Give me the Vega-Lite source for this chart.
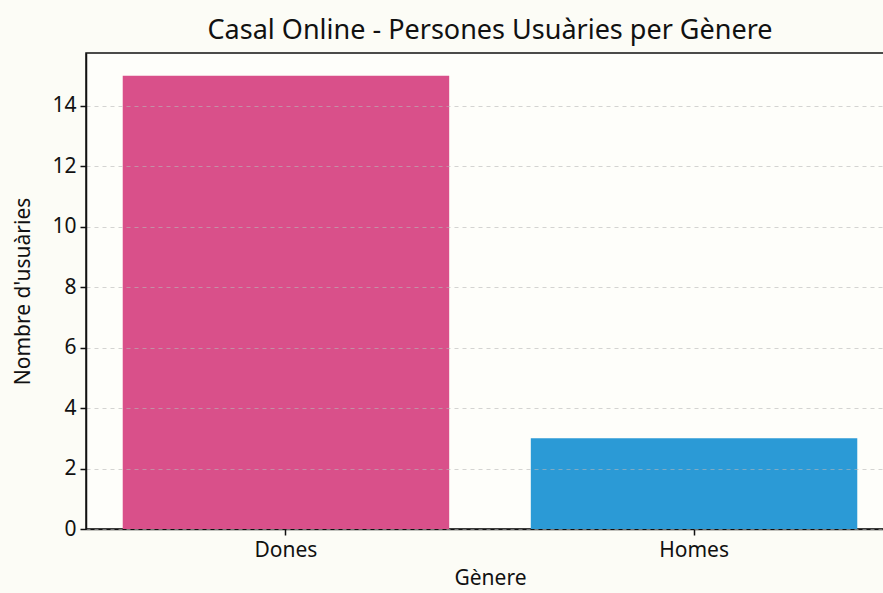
{
  "$schema": "https://vega.github.io/schema/vega-lite/v6.json",
  "autosize": {"type": "none"},
  "padding": {"left": 86, "top": 53, "right": 0, "bottom": 64},
  "width": 808,
  "height": 476,
  "background": "#fcfcf6",
  "title": {
    "text": "Casal Online - Persones Usuàries per Gènere",
    "font": "Noto Sans",
    "fontSize": 27,
    "fontWeight": "normal",
    "color": "#111111",
    "anchor": "middle",
    "offset": 8
  },
  "config": {
    "view": {"stroke": "#111111", "strokeWidth": 1.5, "fill": "#fefefa"},
    "axis": {
      "labelFont": "Noto Sans",
      "titleFont": "Noto Sans",
      "labelFontSize": 21,
      "titleFontSize": 21,
      "titleFontWeight": "normal",
      "labelColor": "#111111",
      "titleColor": "#111111",
      "domainColor": "#111111",
      "tickColor": "#111111",
      "domainWidth": 1.5,
      "tickWidth": 1.5,
      "tickSize": 6
    }
  },
  "data": {
    "values": [
      {"genere": "Dones", "usuaries": 15},
      {"genere": "Homes", "usuaries": 3}
    ]
  },
  "mark": {"type": "bar"},
  "encoding": {
    "x": {
      "field": "genere",
      "type": "nominal",
      "title": "Gènere",
      "scale": {"paddingInner": 0.2, "paddingOuter": 0.09},
      "axis": {"labelAngle": 0, "labelPadding": 4, "titlePadding": 7, "grid": false}
    },
    "y": {
      "field": "usuaries",
      "type": "quantitative",
      "title": "Nombre d'usuàries",
      "scale": {"domain": [0, 15.75], "nice": false},
      "axis": {
        "values": [0, 2, 4, 6, 8, 10, 12, 14],
        "grid": true,
        "gridDash": [4, 4],
        "gridColor": "#b8b8b8",
        "gridOpacity": 0.6,
        "zindex": 1,
        "labelPadding": 4,
        "titlePadding": 18
      }
    },
    "color": {
      "field": "genere",
      "type": "nominal",
      "scale": {"domain": ["Dones", "Homes"], "range": ["#d9508a", "#2b9ad6"]},
      "legend": null
    }
  }
}
